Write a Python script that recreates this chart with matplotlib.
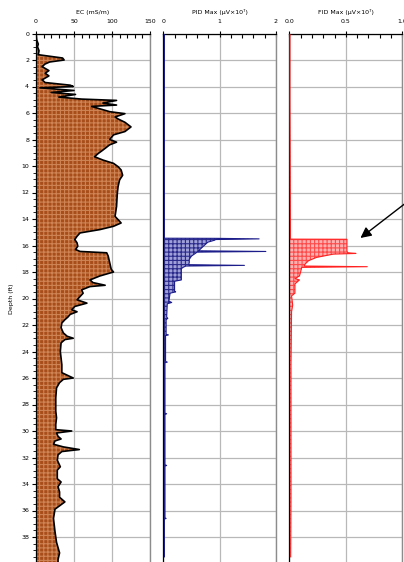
import numpy as np
import matplotlib
matplotlib.use("Agg")
import matplotlib.pyplot as plt
from matplotlib.ticker import MultipleLocator

plt.rcParams["hatch.linewidth"] = 0.8

# EC log (mS/m) vs depth (ft)
ec_depth = [0, 0.5, 0.8, 1.0, 1.3, 1.6, 1.85, 2.0, 2.15, 2.3, 2.5, 2.8, 3.0, 3.2, 3.5,
            3.7, 3.9, 4.0, 4.1, 4.3, 4.45, 4.6, 4.8, 4.95, 5.05, 5.25, 5.4, 5.5, 5.9,
            6.05, 6.3, 6.45, 6.7, 7.05, 7.4, 7.65, 8.0, 8.2, 8.4, 8.8, 9.05, 9.3, 9.55,
            9.8, 10.05, 10.3, 10.7, 11.05, 11.55, 12.05, 13.05, 13.8, 14.3, 14.55, 14.8,
            15.05, 15.3, 15.55, 15.8, 16.05, 16.3, 16.45, 16.55, 16.8, 17.3, 17.8, 18.0,
            18.3, 18.6, 18.8, 19.0, 19.1, 19.35, 19.6, 19.85, 20.1, 20.35, 20.6, 20.85,
            21.0, 21.2, 21.4, 21.6, 21.85, 22.2, 22.6, 22.85, 23.0, 23.1, 23.35, 24.0,
            25.0, 25.6, 26.0, 26.1, 26.35, 26.75, 27.5, 28.5, 29.0, 29.5, 29.9, 30.0,
            30.15, 30.4, 30.6, 30.75, 31.0, 31.2, 31.4, 31.55, 31.8, 32.2, 32.7, 32.95,
            33.6, 33.85, 34.2, 34.6, 35.0, 35.35, 35.6, 35.9, 36.6, 37.6, 38.4, 39.2,
            39.7, 40.0]
ec_value = [0, 1, 3, 2, 4, 3, 35, 37, 18, 12, 8, 17, 12, 17, 8,
            12, 45, 49, 5, 50, 20, 52, 30, 60, 106, 88, 106, 73, 97,
            117, 104, 108, 117, 125, 117, 102, 97, 106, 97, 88, 82, 77, 88,
            102, 108, 112, 114, 110, 108, 107, 106, 104, 112, 102, 84,
            58, 54, 51, 54, 55, 52, 58, 93, 95, 97, 99, 102,
            84, 71, 75, 91, 71, 60, 62, 58, 54, 67, 51, 47,
            54, 45, 42, 38, 34, 33, 36, 41, 49, 38, 33, 32,
            34, 34, 49, 36, 31, 27, 26, 26, 27, 26, 26, 47,
            27, 29, 33, 25, 23, 36, 57, 34, 29, 28, 32, 28,
            28, 33, 29, 31, 31, 38, 32, 25, 23, 25, 27, 31,
            29, 29]

# PID max (uV x 10^7)
pid_depth = [0, 5, 10, 15.0, 15.45, 15.46, 15.5, 15.55, 15.6, 15.75, 16.1, 16.3, 16.4,
             16.45, 16.5, 16.8, 17.05, 17.3, 17.45, 17.5, 17.55, 17.65, 17.75, 18.6,
             18.7, 19.45, 19.5, 19.6, 20.2, 20.3, 20.4, 21.4, 21.5, 21.6, 22.7, 22.75,
             22.8, 24.75, 24.8, 24.85, 28.65, 28.7, 28.75, 32.55, 32.6, 32.65, 36.55,
             36.6, 36.65, 39.5]
pid_value = [0.02, 0.02, 0.02, 0.02, 0.02, 0.94, 1.7, 0.93, 0.91, 0.79, 0.70, 0.65, 0.62,
             1.82, 0.6, 0.50, 0.46, 0.46, 0.45, 1.44, 0.40, 0.35, 0.32, 0.32,
             0.2, 0.2, 0.22, 0.12, 0.1, 0.15, 0.07, 0.06, 0.08, 0.05, 0.05, 0.09,
             0.04, 0.04, 0.07, 0.03, 0.03, 0.06, 0.03, 0.03, 0.06, 0.03, 0.03,
             0.05, 0.02, 0.02]

# FID max (uV x 10^7)
fid_depth = [0, 5, 10, 15.0, 15.52, 15.53, 16.0, 16.45, 16.55, 16.6, 16.65, 16.9, 17.15,
             17.4, 17.55, 17.6, 17.65, 18.0, 18.3, 18.5, 18.6, 18.9, 19.6, 19.8, 20.5,
             21.0, 25, 30, 35, 39.5]
fid_value = [0.006, 0.006, 0.008, 0.01, 0.01, 0.51, 0.51, 0.51, 0.52, 0.59, 0.39, 0.24,
             0.17, 0.14, 0.13, 0.69, 0.11, 0.1, 0.09, 0.05, 0.09, 0.05, 0.05, 0.02,
             0.03, 0.02, 0.015, 0.015, 0.015, 0.012]

W, H = 404, 562
fig = plt.figure(figsize=(W / 100, H / 100), dpi=100)

top = 1 - 33.5 / H
height = 530 / H
bottom = top - height

PANELS = [
    dict(left=36, width=114, depth=ec_depth, value=ec_value, xlim=(0, 150), major=50,
         minor=10, labels=["0", "50", "100", "150"], title="EC (mS/m)",
         face="#a84e1a", hatch_color="#cf8456", line="black", lw=1.2),
    dict(left=163.3, width=112.7, depth=pid_depth, value=pid_value, xlim=(0, 2), major=1,
         minor=0.2, labels=["0", "1", "2"], title="PID Max (µV×10⁷)",
         face="#a0a0d8", hatch_color="#2a2a8c", line="#1c1c8a", lw=0.8),
    dict(left=289.3, width=113, depth=fid_depth, value=fid_value, xlim=(0, 1), major=0.5,
         minor=0.1, labels=["0.0", "0.5", "1.0"], title="FID Max (µV×10⁷)",
         face="#ffb0b0", hatch_color="#ff4a4a", line="#ff2020", lw=0.8),
]

axes = []
for i, p in enumerate(PANELS):
    ax = fig.add_axes([p["left"] / W, bottom, p["width"] / W, height])
    d = np.array(p["depth"])
    v = np.array(p["value"])
    ax.fill_betweenx(d, 0, v, facecolor=p["face"], edgecolor=p["hatch_color"],
                     hatch="++++", linewidth=0, zorder=2)
    ax.plot(v, d, color=p["line"], lw=p["lw"], zorder=3)

    ax.set_xlim(p["xlim"])
    ax.set_ylim(40, 0)
    ax.xaxis.tick_top()
    ax.xaxis.set_label_position("top")
    ticks = np.arange(p["xlim"][0], p["xlim"][1] + p["major"] / 2, p["major"])
    ax.set_xticks(ticks)
    ax.set_xticklabels(p["labels"], fontsize=4.5)
    ax.xaxis.set_minor_locator(MultipleLocator(p["minor"]))
    ax.tick_params(axis="x", which="major", direction="inout", length=5, width=0.8, pad=4)
    ax.tick_params(axis="x", which="minor", direction="in", length=3, width=0.8)
    ax.set_xlabel(p["title"], fontsize=4.5, labelpad=4)

    ax.yaxis.set_major_locator(MultipleLocator(2))
    ax.grid(True, which="major", color="#b8b8b8", lw=0.9, zorder=0)
    ax.set_axisbelow(True)

    if i == 0:
        ax.yaxis.set_minor_locator(MultipleLocator(0.5))
        ax.tick_params(axis="y", which="major", direction="out", length=3, width=0.8,
                       labelsize=4.5, pad=2)
        ax.tick_params(axis="y", which="minor", direction="out", length=2, width=0.6)
        ax.set_ylabel("Depth (ft)", fontsize=4.5, labelpad=5)
    else:
        ax.tick_params(axis="y", which="both", length=0, labelleft=False)

    for side in ("top", "left"):
        ax.spines[side].set_color("black")
        ax.spines[side].set_linewidth(0.9)
    for side in ("right", "bottom"):
        ax.spines[side].set_color("#8c8c8c")
        ax.spines[side].set_linewidth(1.0)
    axes.append(ax)

axes[2].annotate("", xy=(0.61, 15.56), xytext=(1.06, 12.6),
                 arrowprops=dict(arrowstyle="-|>", color="black", lw=1.0,
                                 mutation_scale=16),
                 annotation_clip=False)

fig.savefig("out.png", dpi=100)
